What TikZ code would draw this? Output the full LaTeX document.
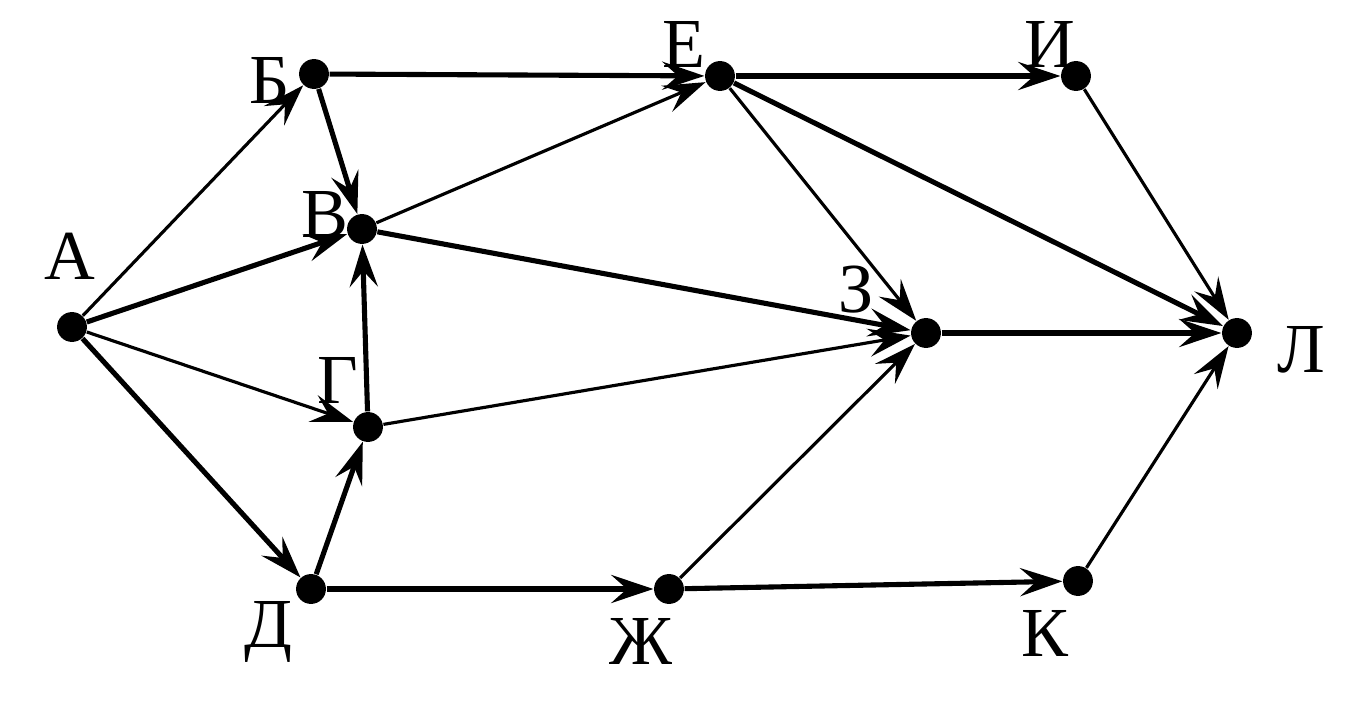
\documentclass[tikz,border=0pt]{standalone}
\usepackage{fontspec}
\setmainfont{Liberation Serif}
\usetikzlibrary{positioning, arrows.meta}

\begin{document}
\begin{tikzpicture}[
    dot/.style={circle, fill, inner sep=0pt, minimum size=8.5pt},
    lbl/.style={font=\fontsize{20}{24}\selectfont},
    thk/.style={line width=1.45pt, -{Stealth[length=12pt, width=8pt, inset=4.5pt]}},
    thn/.style={line width=0.9pt, -{Stealth[length=12pt, width=8pt, inset=4.5pt]}}
  ]
  \useasboundingbox (0,0) rectangle (13.61,7.01);

  \node [dot] (A) at (0.72,3.74) {};
  \node [dot] (B) at (3.14,6.27) {};
  \node [dot] (V) at (3.62,4.72) {};
  \node [dot] (G) at (3.68,2.74) {};
  \node [dot] (D) at (3.11,1.12) {};
  \node [dot] (E) at (7.20,6.25) {};
  \node [dot] (Zh) at (6.69,1.12) {};
  \node [dot] (Z) at (9.26,3.68) {};
  \node [dot] (I) at (10.76,6.25) {};
  \node [dot] (K) at (10.78,1.20) {};
  \node [dot] (L) at (12.37,3.68) {};

  % vertex names
  \node [lbl] (AName) at (0.70,4.45) {А};
  \node [lbl] (BName) at (2.70,6.21) {Б};
  \node [lbl] (VName) at (3.25,4.86) {В};
  \node [lbl] (GName) at (3.38,3.21) {Г};
  \node [lbl] (DName) at (2.68,0.69) {Д};
  \node [lbl] (EName) at (6.84,6.57) {Е};
  \node [lbl] (ZhName) at (6.41,0.60) {Ж};
  \node [lbl] (ZName) at (8.56,4.11) {З};
  \node [lbl] (IName) at (10.50,6.57) {И};
  \node [lbl] (KName) at (10.45,0.68) {К};
  \node [lbl] (LName) at (13.01,3.51) {Л};

  \draw [thn] (A) -- (B);
  \draw [thk] (A) -- (V);
  \draw [thn] (A) -- (G);
  \draw [thk] (A) -- (D);
  \draw [thk] (B) -- (E);
  \draw [thk] (B) -- (V);
  \draw [thn] (V) -- (E);
  \draw [thk] (V) -- (Z);
  \draw [thk] (G) -- (V);
  \draw [thn] (G) -- (Z);
  \draw [thk] (D) -- (G);
  \draw [thk] (D) -- (Zh);
  \draw [thk] (E) -- (I);
  \draw [thn] (E) -- (Z);
  \draw [thk] (E) -- (L);
  \draw [thn] (I) -- (L);
  \draw [thk] (Z) -- (L);
  \draw [thn] (Zh) -- (Z);
  \draw [thk] (Zh) -- (K);
  \draw [thn] (K) -- (L);
\end{tikzpicture}
\end{document}
